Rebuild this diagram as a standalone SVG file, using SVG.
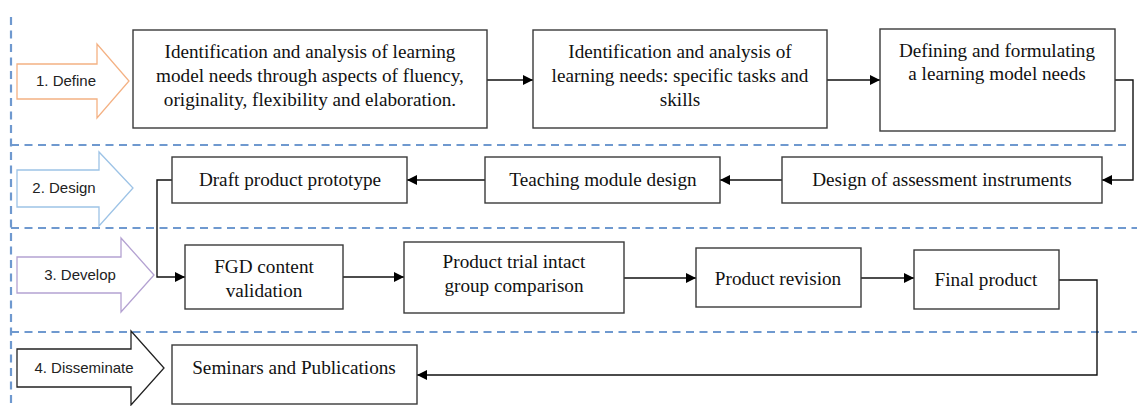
<svg xmlns="http://www.w3.org/2000/svg" width="1137" height="406" viewBox="0 0 1137 406">
<style>
.bg{fill:#ffffff}
.sep{fill:none;stroke:#6F99CF;stroke-width:2.2;stroke-dasharray:8,5.5}
.box{fill:#ffffff;stroke:#3a3a3a;stroke-width:1.4}
.t{font-family:"Liberation Serif","Times New Roman",serif;font-size:19.2px;fill:#111;text-anchor:middle}
.lbl{font-family:"Liberation Sans",Arial,sans-serif;font-size:15px;fill:#222;text-anchor:middle}
.con{fill:none;stroke:#111;stroke-width:1.4}
</style>
<defs>
<marker id="ah" viewBox="0 0 10 10" refX="10" refY="5" markerWidth="10" markerHeight="10" markerUnits="userSpaceOnUse" orient="auto">
<path d="M0,0 L10,5 L0,10 Z" fill="#000"/>
</marker>
</defs>
<rect class="bg" x="0" y="0" width="1137" height="406"/>
<g id="separators">
<line class="sep" x1="11" y1="17" x2="11" y2="406"/>
<line class="sep" x1="11" y1="145" x2="1126" y2="145"/>
<line class="sep" x1="11" y1="228" x2="1137" y2="228"/>
<line class="sep" x1="11" y1="332" x2="1137" y2="332"/>
</g>
<g id="phase-define">
<polygon points="17,64 97,64 97,44 129,81 97,118 97,99 17,99" fill="#fff" stroke="#F4B183" stroke-width="1.3"/>
<text class="lbl" x="66" y="86">1. Define</text>
</g>
<g id="phase-design">
<polygon points="17,170 99,170 99,152 133,188 99,226 99,207 17,207" fill="#fff" stroke="#9DC3E6" stroke-width="1.3"/>
<text class="lbl" x="64" y="193">2. Design</text>
</g>
<g id="phase-develop">
<polygon points="17,257 121,257 121,238 154,275 121,312 121,293 17,293" fill="#fff" stroke="#B4A2D2" stroke-width="1.3"/>
<text class="lbl" x="80" y="280">3. Develop</text>
</g>
<g id="phase-disseminate">
<polygon points="17,349 131,349 131,331 164,368 131,405 131,387 17,387" fill="#fff" stroke="#222" stroke-width="1.3"/>
<text class="lbl" x="84" y="373">4. Disseminate</text>
</g>
<g id="connectors">
<line class="con" x1="487" y1="80" x2="533" y2="80" marker-end="url(#ah)"/>
<line class="con" x1="827" y1="80" x2="880" y2="80" marker-end="url(#ah)"/>
<polyline class="con" points="1115,80 1133,80 1133,180 1102,180" marker-end="url(#ah)"/>
<line class="con" x1="782" y1="180" x2="720" y2="180" marker-end="url(#ah)"/>
<line class="con" x1="485" y1="180" x2="407" y2="180" marker-end="url(#ah)"/>
<polyline class="con" points="172,180 157,180 157,277 185,277" marker-end="url(#ah)"/>
<line class="con" x1="343" y1="277" x2="404" y2="277" marker-end="url(#ah)"/>
<line class="con" x1="624" y1="278" x2="696" y2="278" marker-end="url(#ah)"/>
<line class="con" x1="861" y1="278" x2="914" y2="278" marker-end="url(#ah)"/>
<polyline class="con" points="1059,280 1097,280 1097,375 417,375" marker-end="url(#ah)"/>
</g>
<g id="n1">
<rect class="box" x="133" y="30" width="354" height="98"/>
<text class="t" x="310" y="58">Identification and analysis of learning</text>
<text class="t" x="310" y="82">model needs through aspects of fluency,</text>
<text class="t" x="310" y="106">originality, flexibility and elaboration.</text>
</g>
<g id="n2">
<rect class="box" x="533" y="30" width="294" height="98"/>
<text class="t" x="680" y="58">Identification and analysis of</text>
<text class="t" x="680" y="82">learning needs: specific tasks and</text>
<text class="t" x="680" y="106">skills</text>
</g>
<g id="n3">
<rect class="box" x="880" y="29" width="235" height="102"/>
<text class="t" x="997" y="57">Defining and formulating</text>
<text class="t" x="997" y="80">a learning model needs</text>
</g>
<g id="n4">
<rect class="box" x="782" y="157" width="320" height="46"/>
<text class="t" x="942" y="186">Design of assessment instruments</text>
</g>
<g id="n5">
<rect class="box" x="485" y="157" width="235" height="46"/>
<text class="t" x="603" y="186">Teaching module design</text>
</g>
<g id="n6">
<rect class="box" x="172" y="157" width="235" height="46"/>
<text class="t" x="290" y="186">Draft product prototype</text>
</g>
<g id="n7">
<rect class="box" x="185" y="245" width="158" height="64"/>
<text class="t" x="264" y="273">FGD content</text>
<text class="t" x="264" y="297">validation</text>
</g>
<g id="n8">
<rect class="box" x="404" y="242" width="220" height="71"/>
<text class="t" x="514" y="268">Product trial intact</text>
<text class="t" x="514" y="292">group comparison</text>
</g>
<g id="n9">
<rect class="box" x="696" y="248" width="165" height="59"/>
<text class="t" x="778" y="285">Product revision</text>
</g>
<g id="n10">
<rect class="box" x="914" y="250" width="145" height="59"/>
<text class="t" x="986" y="286">Final product</text>
</g>
<g id="n11">
<rect class="box" x="172" y="345" width="245" height="59"/>
<text class="t" x="294" y="374">Seminars and Publications</text>
</g>
</svg>
